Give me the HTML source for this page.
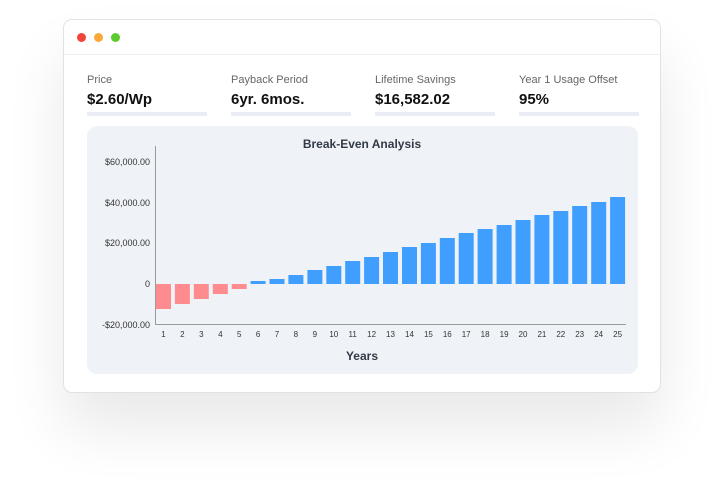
<!DOCTYPE html>
<html><head><meta charset="utf-8"><style>
html,body{margin:0;padding:0;background:#fff;width:723px;height:497px;overflow:hidden;font-family:"Liberation Sans","DejaVu Sans",sans-serif;}
.card{position:absolute;left:63px;top:19px;width:596px;height:372px;background:#fff;border:1px solid #e2e2e2;border-radius:9px;box-shadow:0 35px 60px rgba(0,0,0,0.09);}
.hdr{position:absolute;left:0;top:0;width:596px;height:34px;border-bottom:1px solid #eeeeee;}
.dot{position:absolute;top:13px;width:9px;height:9px;border-radius:50%;}
.lbl{position:absolute;top:54px;font-size:11px;color:#666;}
.val{position:absolute;top:71px;font-size:15px;font-weight:bold;color:#111;}
.bar{position:absolute;top:92px;width:120px;height:4px;background:#e9edf3;}
.panel{position:absolute;left:23px;top:106px;width:551px;height:248px;background:#eff3f8;border-radius:10px;}
</style></head><body>
<div class="card">
<div class="hdr">
<div class="dot" style="left:13px;background:#f4433b"></div>
<div class="dot" style="left:30px;background:#f8a93a"></div>
<div class="dot" style="left:47px;background:#5bcb2b"></div>
</div>
<div class="lbl" style="left:23px">Price</div><div class="val" style="left:23px">$2.60/Wp</div><div class="bar" style="left:23px"></div>
<div class="lbl" style="left:167px">Payback Period</div><div class="val" style="left:167px">6yr. 6mos.</div><div class="bar" style="left:167px"></div>
<div class="lbl" style="left:311px">Lifetime Savings</div><div class="val" style="left:311px">$16,582.02</div><div class="bar" style="left:311px"></div>
<div class="lbl" style="left:455px">Year 1 Usage Offset</div><div class="val" style="left:455px">95%</div><div class="bar" style="left:455px"></div>
<div class="panel"></div>
</div>
<svg width="723" height="497" style="position:absolute;left:0;top:0" font-family="Liberation Sans, sans-serif">
<text x="362" y="148" text-anchor="middle" font-size="12" font-weight="bold" fill="#333a45">Break-Even Analysis</text>
<g font-size="9" fill="#333" text-anchor="end">
<text x="150" y="165">$60,000.00</text>
<text x="150" y="206">$40,000.00</text>
<text x="150" y="246">$20,000.00</text>
<text x="150" y="287">0</text>
<text x="150" y="328">-$20,000.00</text>
</g>
<g id="bars"></g>
<line x1="155.5" y1="146" x2="155.5" y2="325" stroke="#9a9a9a" stroke-width="1"/>
<line x1="155" y1="324.5" x2="626" y2="324.5" stroke="#9a9a9a" stroke-width="1"/>
<g id="xl" font-size="8" fill="#333" text-anchor="middle"></g>
<text x="362" y="360" text-anchor="middle" font-size="12" font-weight="bold" fill="#333a45">Years</text>
</svg>
<script>
var tops=[309,304,299,294,289,281,279,275,270,266,261,257,252,247,243,238,233,229,225,220,215,211,206,202,197];
var z=284,g=document.getElementById('bars'),xl=document.getElementById('xl'),s='',t='';
for(var i=0;i<25;i++){var x=156+i*18.92,v=tops[i];
if(v>z){s+='<rect x="'+x.toFixed(1)+'" y="'+z+'" width="15" height="'+(v-z)+'" fill="#fe8c8e"/>';}
else{s+='<rect x="'+x.toFixed(1)+'" y="'+v+'" width="15" height="'+(z-v)+'" fill="#409ffe"/>';}
t+='<text x="'+(x+7.5).toFixed(1)+'" y="337">'+(i+1)+'</text>';}
g.innerHTML=s;xl.innerHTML=t;
</script>
</body></html>
